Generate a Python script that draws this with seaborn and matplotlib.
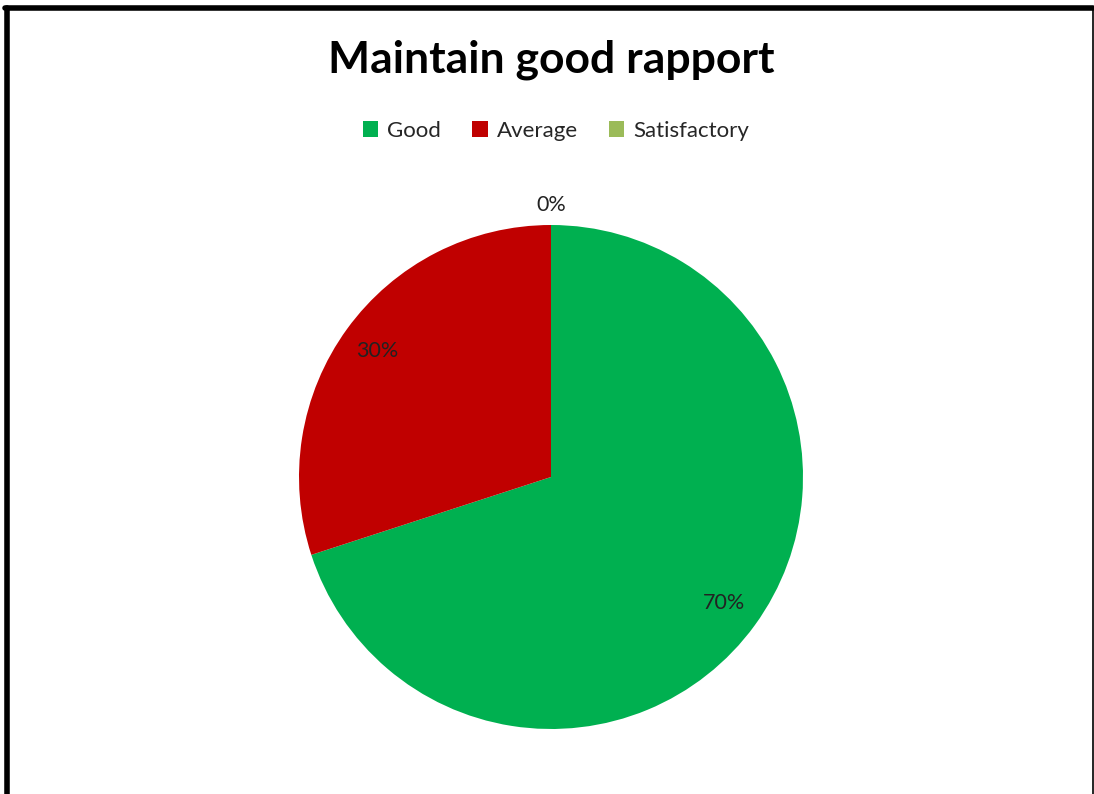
import numpy as np
import matplotlib
matplotlib.use("Agg")
import matplotlib.pyplot as plt
from matplotlib.patches import Patch
from matplotlib.lines import Line2D
import seaborn as sns

categories = ["Good", "Average", "Satisfactory"]
shares = [70, 30, 0]
colors = ["#00B050", "#C00000", "#9BBB59"]
title = "Maintain good rapport"

sns.set_theme(style="white")
plt.rcParams["font.family"] = ["Lato", "DejaVu Sans"]

W, H = 1094, 794
fig = plt.figure(figsize=(W / 100, H / 100), dpi=100)
fig.patch.set_facecolor("white")

# pie centre and radius in pixels
cx, cy, r = 551, 477, 252
ax = fig.add_axes([(cx - r) / W, (H - cy - r) / H, 2 * r / W, 2 * r / H])
wedges, texts, autotexts = ax.pie(
    shares, colors=colors, startangle=90, counterclock=False,
    autopct=lambda p: f"{p:.0f}%", pctdistance=0.85,
    textprops=dict(fontsize=15.5, color="#222222"),
    wedgeprops=dict(linewidth=0),
)
ax.set_xlim(-1, 1)
ax.set_ylim(-1, 1)
ax.set_aspect("equal")

# zero slice: push its label outside the pie
for w, t, v in zip(wedges, autotexts, shares):
    if v == 0:
        ang = np.deg2rad((w.theta1 + w.theta2) / 2)
        t.set_position((1.08 * np.cos(ang), 1.08 * np.sin(ang)))

fig.text(cx / W, 1 - 60 / H, title, ha="center", va="center",
         fontsize=32, fontweight="bold", color="black")

handles = [Patch(facecolor=c, edgecolor="none") for c in colors]
fig.legend(handles, categories, loc="center", bbox_to_anchor=(556 / W, 1 - 131 / H),
           ncol=3, frameon=False, fontsize=16, handlelength=0.7, handleheight=0.7,
           handletextpad=0.4, columnspacing=1.4)

# chart frame (bottom edge is cut off in the reference)
fig.add_artist(Line2D([6.5 / W, 6.5 / W], [0, 1 - 8 / H], transform=fig.transFigure,
                      color="black", linewidth=4))
fig.add_artist(Line2D([4.5 / W, 1092.5 / W], [1 - 8 / H, 1 - 8 / H], transform=fig.transFigure,
                      color="black", linewidth=4))
fig.add_artist(Line2D([1092.5 / W, 1092.5 / W], [0, 1 - 8 / H], transform=fig.transFigure,
                      color="black", linewidth=1.2))

fig.savefig("out.png", dpi=100, facecolor="white")
